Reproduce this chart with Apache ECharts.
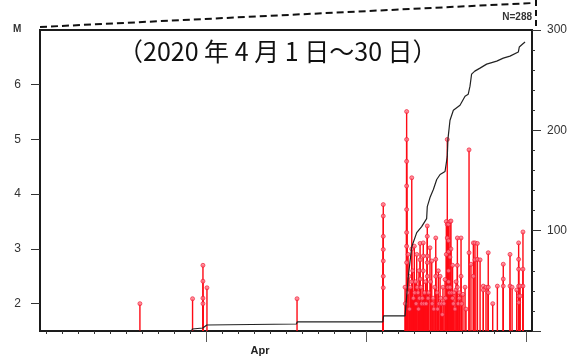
<!DOCTYPE html>
<html>
<head>
<meta charset="utf-8">
<script src="https://cdn.jsdelivr.net/npm/echarts@6/dist/echarts.min.js"></script>
<style>html,body{margin:0;padding:0;background:#fff}#c{width:582px;height:356px}</style>
</head>
<body>
<div id="c"></div>
<script>
// Time in days from April 1 (0 = Apr 1 00:00)
const eventDay = [
 -4.13, -0.84, -0.19, -0.19, -0.19, -0.19, 0.06, 5.69,
 11.08, 11.08, 11.08, 11.08, 11.08, 11.08, 11.08,
 12.44, 12.46,
 12.54, 12.54, 12.54, 12.54, 12.54, 12.54, 12.54, 12.54,
 12.60, 12.63, 12.69, 12.72, 12.77,
 12.86, 12.86, 12.86, 12.92, 12.96, 13.02, 13.04, 13.09, 13.13,
 13.17, 13.19, 13.25, 13.28, 13.31, 13.34,
 13.38, 13.38, 13.38, 13.44, 13.48, 13.52,
 13.58, 13.58, 13.58, 13.63, 13.66, 13.72, 13.76,
 13.83, 13.83, 13.83, 13.83, 13.83, 13.88, 13.91,
 14.00, 14.03, 14.11, 14.14, 14.19, 14.24, 14.30,
 14.36, 14.36, 14.36, 14.44, 14.48, 14.52, 14.56, 14.63, 14.67,
 14.72, 14.77, 14.81, 14.87, 14.94, 14.97,
 15.02, 15.02, 15.08, 15.08, 15.08, 15.12,
 15.16, 15.16, 15.16, 15.16, 15.16, 15.21,
 15.25, 15.25, 15.25, 15.31, 15.31, 15.36, 15.41, 15.41, 15.46, 15.50, 15.56,
 15.63, 15.63, 15.71, 15.71, 15.71, 15.76, 15.83, 15.83,
 15.94, 15.94, 15.98, 16.06, 16.19, 16.25,
 16.44, 16.44, 16.56, 16.71, 16.71, 16.81, 16.81, 16.96, 16.96,
 17.13, 17.33, 17.33, 17.50, 17.64, 17.64, 17.64, 17.92, 18.21,
 18.58, 18.58, 18.58, 19.00, 19.00, 19.13, 19.42,
 19.54, 19.54, 19.54, 19.54, 19.54, 19.54, 19.63, 19.63,
 19.81, 19.81, 19.81
];
const eventMag = [
 2.00, 2.09, 2.70, 2.41, 2.10, 2.00, 2.29, 2.09,
 3.81, 3.60, 3.23, 2.99, 2.78, 2.50, 2.29,
 2.30, 2.00,
 5.51, 5.00, 4.60, 4.15, 3.72, 3.30, 3.05, 2.75,
 2.20, 2.90, 2.50, 1.90, 2.30,
 4.30, 3.00, 2.40, 2.60, 2.10, 3.05, 2.20, 2.40, 2.00,
 2.90, 2.30, 2.20, 1.90, 2.60, 2.10,
 3.10, 2.80, 2.45, 2.30, 2.00, 2.10,
 3.11, 2.87, 2.60, 2.00, 2.20, 2.40, 2.00,
 3.42, 3.23, 2.87, 2.75, 2.50, 2.10, 2.20,
 3.02, 2.40, 2.78, 2.00, 2.10, 1.90, 2.30,
 3.20, 2.81, 2.50, 2.20, 1.90, 2.60, 2.00, 2.50, 2.10,
 2.00, 1.80, 2.30, 2.00, 2.44, 2.10,
 3.50, 2.90, 5.00, 3.45, 3.20, 2.30,
 3.45, 3.15, 2.95, 2.60, 2.40, 2.20,
 3.50, 2.85, 2.30, 3.51, 3.00, 2.20, 2.70, 2.10, 2.00, 2.20, 1.90,
 2.25, 2.40, 3.20, 2.70, 2.30, 2.00, 2.20, 2.10,
 3.20, 2.50, 2.00, 2.17, 2.30, 1.90,
 4.81, 2.93, 2.72, 3.11, 2.50, 3.11, 2.80, 3.10, 2.81,
 2.80, 2.32, 2.25, 2.30, 2.93, 2.30, 2.20, 2.00, 2.32,
 2.72, 2.45, 2.32, 2.90, 2.32, 2.30, 2.25,
 3.11, 2.81, 2.63, 2.32, 2.14, 2.02, 2.32, 2.14,
 3.31, 2.63, 2.32
];
// cumulative number of events (right axis)
const countDay = [-10.375, -0.9, -0.85, -0.2, 0.05, 0.1, 5.65, 5.7, 11.05, 11.1, 12.44, 12.64, 12.86, 13.17, 13.48, 13.79, 13.83, 14.0, 14.21, 14.42, 14.63, 14.94, 15.03, 15.08, 15.12, 15.25, 15.46, 15.875, 16.19, 16.39, 16.5, 16.6, 16.8, 17.125, 17.54, 18.17, 18.58, 19.0, 19.52, 19.58, 19.79, 19.94];
const countVal = [0, 0, 2, 3, 6, 7, 7, 9, 9, 15, 15, 54, 84, 98, 104, 112, 124, 133, 141, 151, 156, 159, 160, 174, 191, 210, 220, 225, 234, 236, 244, 256, 259, 262, 266, 269, 272, 274, 278, 283, 286, 288];
const magTicks = [2, 3, 4, 5, 6];
const dayMinorTicks = [-10,-9,-8,-7,-6,-5,-4,-3,-2,-1,0,1,2,3,4,5,6,7,8,9,10,11,12,13,14,15,16,17,18,19,20];
const dayMajorTicks = [0, 10, 20];
const monthLabelPos = [3.375];
const monthLabel = 'Apr';
const titleText = '（2020 年 4 月 1 日～30 日）';
const totalText = 'N=288';

const events = eventDay.map((d, i) => [d, eventMag[i]]);
const counts = countDay.map((d, i) => [d, countVal[i]]);

const chart = echarts.init(document.getElementById('c'), null, {renderer: 'canvas'});
const font = 'Liberation Sans, Arial, sans-serif';
chart.setOption({
  animation: false,
  backgroundColor: '#fff',
  title: {
    text: titleText, left: 113, top: 34,
    textStyle: {fontFamily: 'Noto Sans CJK JP', fontWeight: 'normal', fontSize: 25, color: '#111'}
  },
  grid: {left: 40, right: 50, top: 30, bottom: 25, show: true, borderColor: '#1a1a1a', borderWidth: 2, backgroundColor: 'transparent'},
  xAxis: [
    {type: 'value', min: -10.375, max: 20.375, splitLine: {show: false},
     axisLine: {show: true, onZero: false, lineStyle: {color: '#1a1a1a', width: 2}},
     axisTick: {show: true, customValues: dayMinorTicks, length: 3, lineStyle: {color: '#333', width: 1}},
     axisLabel: {show: false}},
    {type: 'value', min: -10.375, max: 20.375, position: 'bottom', splitLine: {show: false},
     axisLine: {show: false, onZero: false},
     axisTick: {show: true, customValues: dayMajorTicks, length: 11, lineStyle: {color: '#555', width: 1}},
     axisLabel: {show: true, customValues: monthLabelPos, formatter: () => monthLabel, margin: 14,
       fontFamily: font, fontWeight: 'bold', fontSize: 11, color: '#222'}}
  ],
  yAxis: [
    {type: 'value', min: 1.5, max: 7.0, splitLine: {show: false},
     axisLine: {show: true, onZero: false, lineStyle: {color: '#1a1a1a', width: 2}},
     axisTick: {show: true, customValues: magTicks, length: 9, lineStyle: {color: '#333', width: 1}},
     axisLabel: {customValues: magTicks, margin: 19, fontFamily: font, fontSize: 12, color: '#333'}},
    {type: 'value', min: 0, max: 300, interval: 100, position: 'right', splitLine: {show: false},
     axisLine: {show: true, onZero: false, lineStyle: {color: '#1a1a1a', width: 2}},
     axisTick: {show: true, length: 9, lineStyle: {color: '#333', width: 1}},
     minorTick: {show: true, splitNumber: 5, length: 3, lineStyle: {color: '#333', width: 1}},
     axisLabel: {margin: 15, fontFamily: font, fontSize: 12, color: '#333', formatter: v => v === 0 ? '' : String(v)}}
  ],
  series: [
    {type: 'bar', xAxisIndex: 0, yAxisIndex: 0, data: events, barWidth: 1.4, clip: true,
     itemStyle: {color: '#ff0a14'}, z: 2},
    {type: 'scatter', xAxisIndex: 0, yAxisIndex: 0, data: events, symbol: 'circle', symbolSize: 4,
     itemStyle: {color: '#ff7a8a', borderColor: '#f0102a', borderWidth: 0.8}, z: 3},
    {type: 'line', xAxisIndex: 0, yAxisIndex: 1, data: counts, showSymbol: false, symbol: 'none',
     lineStyle: {color: '#222', width: 1.2}, z: 4}
  ],
  graphic: [
    {type: 'text', left: 13, top: 24, style: {text: 'M', font: 'bold 10px ' + font, fill: '#333'}},
    {type: 'text', right: 50, top: 12, style: {text: totalText, font: 'bold 10px ' + font, fill: '#333'}},
    {type: 'polyline', shape: {points: [[40, 27], [533, 3]]}, style: {stroke: '#111', lineWidth: 2, lineDash: [7, 4], fill: null}},
    {type: 'polyline', shape: {points: [[536, 0], [536, 26]]}, style: {stroke: '#111', lineWidth: 2, lineDash: [6, 4], fill: null}}
  ]
});
</script>
</body>
</html>
